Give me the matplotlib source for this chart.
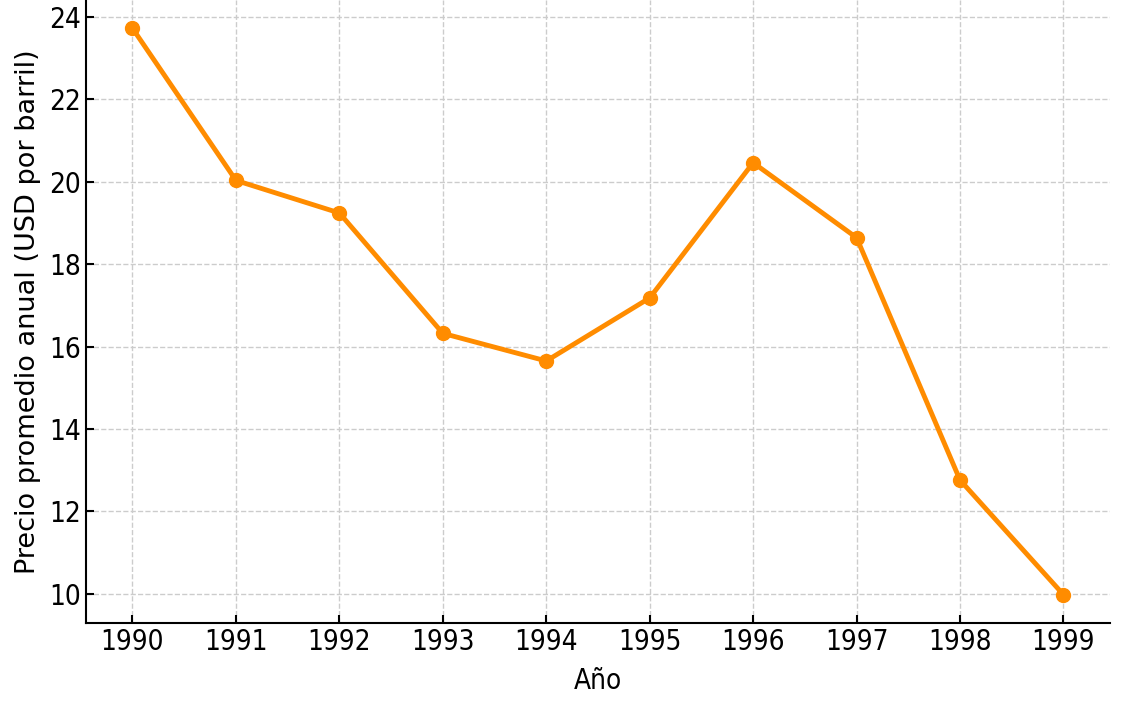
import matplotlib
matplotlib.use("Agg")
import matplotlib.pyplot as plt

years = [1990, 1991, 1992, 1993, 1994, 1995, 1996, 1997, 1998, 1999]
prices = [23.72, 20.03, 19.24, 16.32, 15.65, 17.18, 20.46, 18.64, 12.76, 9.98]
y_ticks = [10, 12, 14, 16, 18, 20, 22, 24]

fig = plt.figure(figsize=(11.25, 7.1), dpi=100)
ax = fig.add_axes([0.0764, 0.1225, 0.9103, 0.8775])

ax.plot(years, prices, color="#ff8c00", lw=3.5, marker="o", ms=10)
ax.set_xticks(years)
ax.set_yticks(y_ticks)
ax.set_xlabel("Año", fontsize=20, fontstretch="condensed", labelpad=8)
ax.set_ylabel("Precio promedio anual (USD por barril)", fontsize=19.5, labelpad=6)
ax.grid(True, color="#cccccc", ls="--", lw=1)
ax.tick_params(direction="in", length=6, width=1.5, labelsize=20)
for lab in ax.get_xticklabels() + ax.get_yticklabels():
    lab.set_fontstretch("condensed")
for side in ("top", "right"):
    ax.spines[side].set_visible(False)
for side in ("left", "bottom"):
    ax.spines[side].set_linewidth(1.5)

fig.savefig("out.png", dpi=100)
